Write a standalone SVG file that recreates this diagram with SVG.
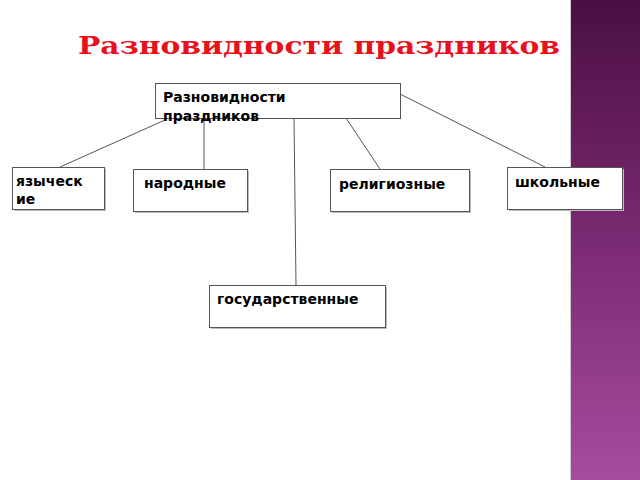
<svg xmlns="http://www.w3.org/2000/svg" width="640" height="480" viewBox="0 0 640 480">
<defs>
<linearGradient id="g" x1="0" y1="0" x2="0" y2="1"><stop offset="0" stop-color="#4a0f42"/><stop offset="0.5" stop-color="#7a2a72"/><stop offset="1" stop-color="#a64c9e"/></linearGradient>
<style>
.b{fill:#fff;stroke:#555;stroke-width:1}
.s{fill:#bbb}
.t{font-family:"DejaVu Sans",sans-serif;font-weight:bold;font-size:14px;fill:#000}
.c line{stroke:#555;stroke-width:1}
</style>
</defs>
<rect width="640" height="480" fill="#fff"/>
<rect x="570" y="0" width="70" height="480" fill="url(#g)"/>
<line x1="570.5" y1="0" x2="570.5" y2="480" stroke="#ccc"/>
<text x="78" y="54" font-family="DejaVu Serif,serif" font-weight="bold" font-size="25" fill="#e8101a" textLength="482" lengthAdjust="spacingAndGlyphs">Разновидности праздников</text>
<g class="c">
<line x1="165" y1="120" x2="60" y2="167"/>
<line x1="204" y1="118" x2="204" y2="169"/>
<line x1="294" y1="118" x2="296" y2="285"/>
<line x1="346" y1="118" x2="380" y2="169"/>
<line x1="400" y1="94" x2="545" y2="167"/>
</g>
<g id="root"><rect class="b" x="155.5" y="83.5" width="245" height="35"/><text class="t" x="163" y="102">Разновидности</text><text class="t" x="163" y="121">праздников</text></g>
<g id="n1"><rect class="s" x="14" y="169" width="92" height="42"/><rect class="b" x="12.5" y="167.5" width="92" height="42"/><text class="t" x="16" y="186">языческ</text><text class="t" x="16" y="204">ие</text></g>
<g id="n2"><rect class="s" x="135" y="171" width="114" height="42"/><rect class="b" x="133.5" y="169.5" width="114" height="42"/><text class="t" x="144" y="188">народные</text></g>
<g id="n3"><rect class="s" x="332" y="171" width="139" height="42"/><rect class="b" x="330.5" y="169.5" width="139" height="42"/><text class="t" x="339" y="189">религиозные</text></g>
<g id="n4"><rect class="s" x="509" y="169" width="115" height="42"/><rect class="b" x="507.5" y="167.5" width="115" height="42"/><text class="t" x="515" y="187">школьные</text></g>
<g id="n5"><rect class="s" x="211" y="287" width="176" height="42"/><rect class="b" x="209.5" y="285.5" width="176" height="42"/><text class="t" x="217" y="304">государственные</text></g>
</svg>
